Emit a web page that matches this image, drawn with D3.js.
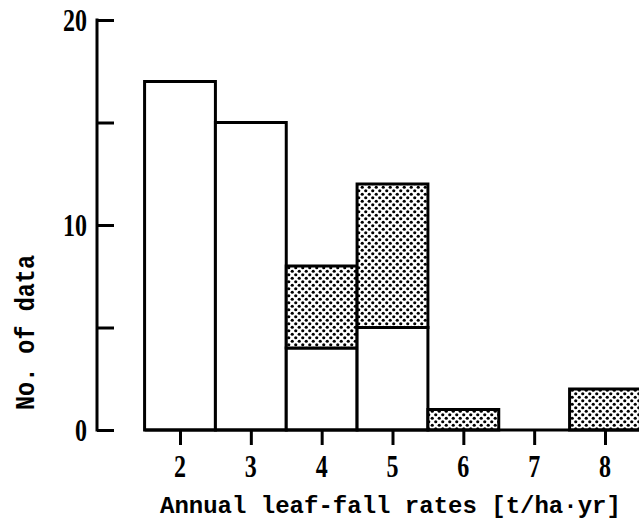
<!DOCTYPE html>
<html>
<head>
<meta charset="utf-8">
<script src="https://cdn.jsdelivr.net/npm/d3@7"></script>
<style>
  body { margin: 0; background: #fff; }
  svg { display: block; }
</style>
</head>
<body>
<svg id="chart" width="639" height="526"></svg>
<script>
// leaf-fall classes (t/ha/yr) and counts per class
const categories = [2, 3, 4, 5, 6, 7, 8];
const openCounts = [17, 15, 4, 5, 0, 0, 0];     // white part
const dottedCounts = [0, 0, 4, 7, 1, 0, 2];     // stippled part, stacked on top
const yTicks = [0, 5, 10, 15, 20];
const yTickLabels = ["0", "", "10", "", "20"];

const svg = d3.select('#chart');

const x = d3.scaleLinear().domain([2, 8]).range([180, 605]);
const y = d3.scaleLinear().domain([0, 20]).range([430, 20]);

// stipple pattern
const pat = svg.append('defs').append('pattern')
    .attr('id', 'dots')
    .attr('patternUnits', 'userSpaceOnUse')
    .attr('width', 7).attr('height', 7);
pat.append('rect').attr('width', 7).attr('height', 7).attr('fill', '#fff');
pat.append('circle').attr('cx', 1.75).attr('cy', 1.75).attr('r', 1.6).attr('fill', '#000');
pat.append('circle').attr('cx', 5.25).attr('cy', 5.25).attr('r', 1.6).attr('fill', '#000');

const numFont = (sel) => sel
    .attr('font-family', 'Liberation Serif')
    .attr('font-weight', 'bold')
    .attr('font-size', 32)
    .attr('fill', '#000');

// bars
const bars = categories.map((c, i) => ({ c, open: openCounts[i], dot: dottedCounts[i] }));
const g = svg.append('g');

bars.forEach(d => {
    const x0 = x(d.c - 0.5), x1 = x(d.c + 0.5);
    if (d.open > 0) {
        g.append('rect')
            .attr('x', x0).attr('width', x1 - x0)
            .attr('y', y(d.open)).attr('height', y(0) - y(d.open))
            .attr('fill', '#fff').attr('stroke', '#000').attr('stroke-width', 3);
    }
    if (d.dot > 0) {
        g.append('rect')
            .attr('x', x0).attr('width', x1 - x0)
            .attr('y', y(d.open + d.dot)).attr('height', y(d.open) - y(d.open + d.dot))
            .attr('fill', 'url(#dots)').attr('stroke', '#000').attr('stroke-width', 3);
    }
});

// baseline under the bars
svg.append('line')
    .attr('x1', x(1.5)).attr('x2', 639)
    .attr('y1', y(0)).attr('y2', y(0))
    .attr('stroke', '#000').attr('stroke-width', 3);

// y axis
const yAxis = svg.append('g').attr('transform', 'translate(97,0)')
    .call(d3.axisRight(y).tickValues(yTicks).tickSize(17).tickFormat(''));
yAxis.select('.domain').remove();
yAxis.selectAll('line').attr('stroke', '#000').attr('stroke-width', 3);
svg.append('line')
    .attr('x1', 97).attr('x2', 97)
    .attr('y1', y(20) - 1.5).attr('y2', y(0) + 1.5)
    .attr('stroke', '#000').attr('stroke-width', 3);

svg.selectAll('.ylab').data(yTicks.filter((t, i) => yTickLabels[i] !== ''))
    .enter().append('text')
    .attr('class', 'ylab')
    .attr('text-anchor', 'end')
    .attr('transform', t => `translate(87,${y(t) + 11}) scale(0.75,1)`)
    .text(t => yTickLabels[yTicks.indexOf(t)])
    .call(numFont);

// x axis ticks
const xAxis = svg.append('g').attr('transform', `translate(0,${y(0)})`)
    .call(d3.axisBottom(x).tickValues(categories).tickSize(15).tickFormat(''));
xAxis.select('.domain').remove();
xAxis.selectAll('line').attr('stroke', '#000').attr('stroke-width', 3);

svg.selectAll('.xlab').data(categories).enter().append('text')
    .attr('class', 'xlab')
    .attr('text-anchor', 'middle')
    .attr('transform', c => `translate(${x(c)},477) scale(0.75,1)`)
    .text(c => c)
    .call(numFont);

// axis titles
svg.append('text')
    .attr('x', 160).attr('y', 513)
    .attr('font-family', 'Liberation Mono')
    .attr('font-weight', 'bold')
    .attr('font-size', 24)
    .text('Annual leaf-fall rates [t/ha\u00b7yr]');

svg.append('text')
    .attr('transform', 'translate(34,410) rotate(-90) scale(1,1.2)')
    .attr('font-family', 'Liberation Mono')
    .attr('font-weight', 'bold')
    .attr('font-size', 23.5)
    .text('No. of data');
</script>
</body>
</html>
